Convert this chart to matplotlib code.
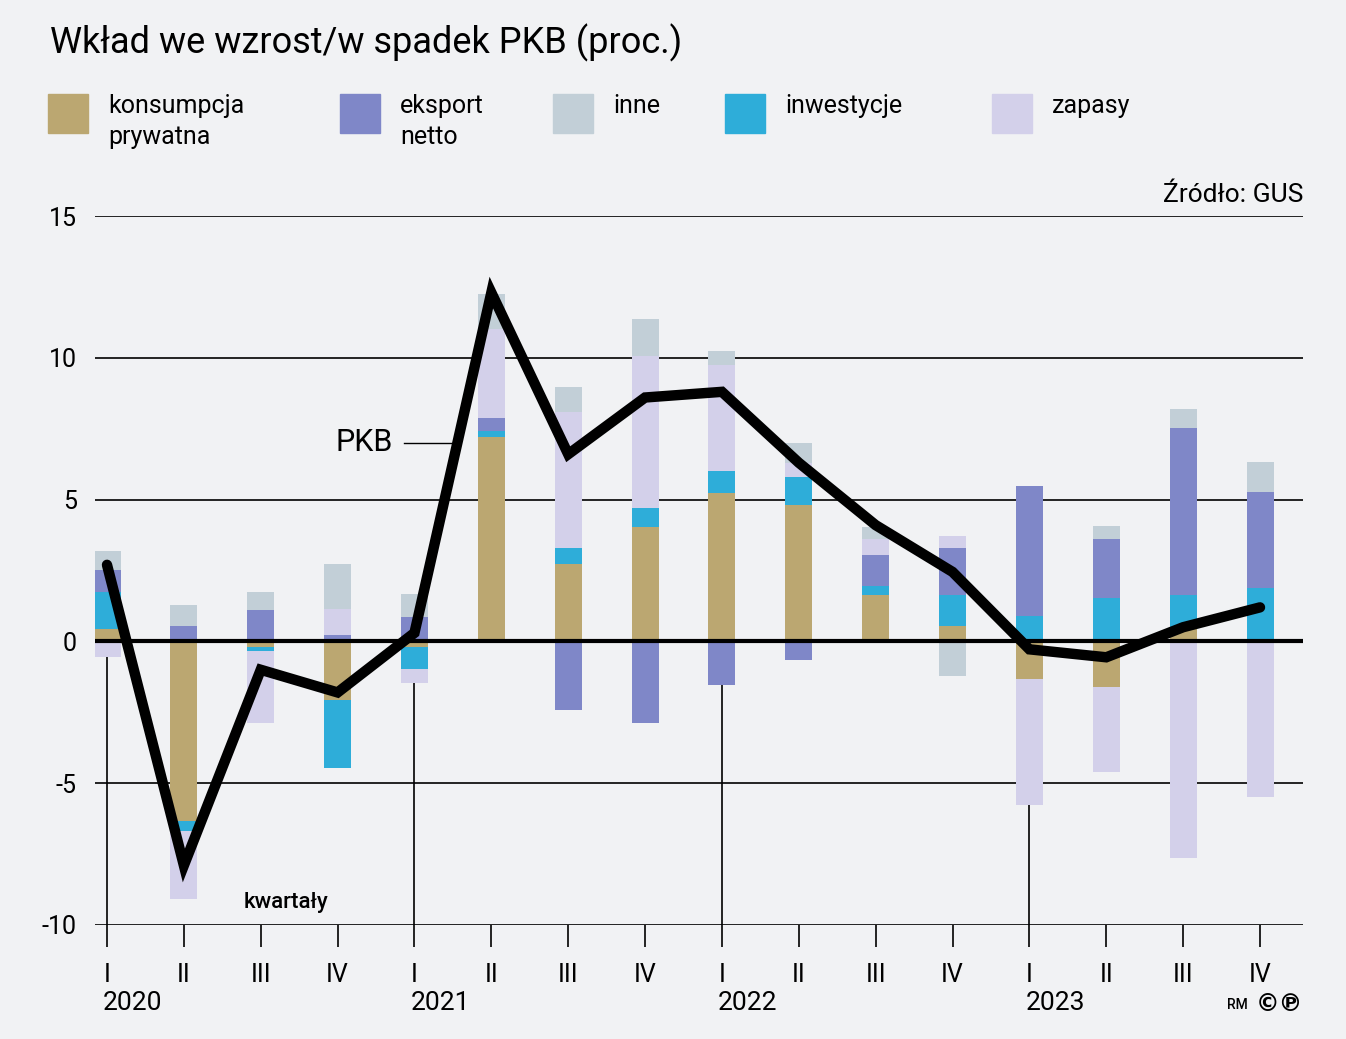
import matplotlib
matplotlib.use("Agg")
import matplotlib.pyplot as plt
import numpy as np
from matplotlib.patches import Rectangle

plt.rcParams['font.family'] = ['Roboto', 'DejaVu Sans']

# kwartały 2020 I - 2023 IV
quarters = ["I", "II", "III", "IV"] * 4
years = ["2020", "2021", "2022", "2023"]

konsumpcja = [0.42, -6.35, -0.2, -2.08, -0.2, 7.2, 2.72, 4.02, 5.22, 4.8, 1.62, 0.53, -1.31, -1.62, 0.45, 0.0]
inwestycje = [1.31, -0.32, -0.15, -2.4, -0.79, 0.21, 0.56, 0.67, 0.78, 0.98, 0.35, 1.09, 0.88, 1.52, 1.17, 1.9]
eksport = [0.77, 0.53, 1.09, 0.21, 0.85, 0.46, -2.43, -2.86, -1.55, -0.67, 1.06, 1.66, 4.59, 2.08, 5.89, 3.36]
zapasy = [-0.56, -2.4, -2.51, 0.92, -0.46, 3.13, 4.82, 5.36, 3.74, 0.52, 0.57, 0.42, -4.47, -2.97, -7.62, -5.5]
inne = [0.67, 0.77, 0.64, 1.59, 0.81, 1.24, 0.86, 1.31, 0.49, 0.68, 0.42, -1.23, 0.0, 0.46, 0.67, 1.05]
pkb = [2.7, -7.9, -1.0, -1.8, 0.3, 12.3, 6.6, 8.6, 8.8, 6.3, 4.1, 2.45, -0.28, -0.56, 0.5, 1.2]

W, H = 1346, 1039
bg = '#F1F2F4'
fig = plt.figure(figsize=(W / 100, H / 100), dpi=100, facecolor=bg)

def fx(px):
    return px / W

def fy(py):
    return 1 - py / H

# obszar wykresu: x 95..1303 px, y 216 (15) .. 925 (-10)
ax = fig.add_axes([fx(95), fy(925), fx(1303) - fx(95), fy(216) - fy(925)])
ax.set_facecolor(bg)
step = (1260 - 107) / 15
ax.set_xlim(-12 / step, 15 + 43 / step)
ax.set_ylim(-10, 15)

x = np.arange(16)
series = [
    ("konsumpcja\nprywatna", konsumpcja, '#BBA771'),
    ("inwestycje", inwestycje, '#2EADD9'),
    ("eksport\nnetto", eksport, '#7F87C8'),
    ("zapasy", zapasy, '#D3D0EA'),
    ("inne", inne, '#C2CFD7'),
]

pos = np.zeros(16)
neg = np.zeros(16)
bw = 27 / step
for name, vals, col in series:
    v = np.array(vals)
    bottom = np.where(v >= 0, pos, neg)
    ax.bar(x, v, bottom=bottom, width=bw, color=col, zorder=2)
    pos = pos + np.where(v >= 0, v, 0)
    neg = neg + np.where(v < 0, v, 0)

# siatka
for yv in [15, 10, 5, -5, -10]:
    ax.axhline(yv, color='black', lw=1.2, zorder=1)
ax.axhline(0, color='black', lw=3, zorder=3)

# linie lat
for i in range(0, 16, 4):
    ax.vlines(x[i], -10, neg[i], color='black', lw=1.2, zorder=1)

ax.plot(x, pkb, color='black', lw=7.5, solid_joinstyle='miter', solid_capstyle='round', zorder=4)

for s in ax.spines.values():
    s.set_visible(False)
ax.set_xticks(x)
ax.set_xticklabels(quarters, fontsize=18)
ax.tick_params(axis='x', length=16, width=1.2, pad=11, color='black')
ax.set_yticks([15, 10, 5, 0, -5, -10])
ax.set_yticklabels(['15', '10', '5', '0', '-5', '-10'])
ax.tick_params(axis='y', length=0, pad=13, labelsize=18)

for i, yr in enumerate(years):
    ax.text(x[i * 4] - 4 / step, -12.75, yr, fontsize=19, ha='left', va='center',
            clip_on=False)

# etykiety
ax.text(x[4] - 22 / step, 7.0, "PKB", fontsize=22, ha='right', va='center')
ax.plot([x[4] - 10 / step, x[4] + 37 / step], [7.0, 7.0], color='black', lw=1, zorder=1)
ax.text(x[2] - 17 / step, -9.2, "kwartały", fontsize=16, fontweight='medium',
        ha='left', va='center')

fig.text(fx(50), fy(43), "Wkład we wzrost/w spadek PKB (proc.)", fontsize=26,
         ha='left', va='center')
fig.text(fx(1303), fy(195), "Źródło: GUS", fontsize=19,
         ha='right', va='center')

# legenda
leg = [("konsumpcja\nprywatna", '#BBA771', 48),
       ("eksport\nnetto", '#7F87C8', 340),
       ("inne", '#C2CFD7', 553),
       ("inwestycje", '#2EADD9', 725),
       ("zapasy", '#D3D0EA', 992)]
for name, col, lx in leg:
    fig.patches.append(Rectangle((fx(lx), fy(133)), fx(40), 39 / H, color=col,
                                 transform=fig.transFigure))
    fig.text(fx(lx + 60), fy(94), name, fontsize=18, ha='left', va='top',
             linespacing=1.35)

fig.text(fx(1248), fy(1005), "RM", fontsize=10, fontweight='medium', ha='right', va='center')
fig.text(fx(1303), fy(1004), "©℗", fontsize=17, fontweight='bold', ha='right', va='center',
         family=['DejaVu Sans'])

fig.savefig("out.png", dpi=100, facecolor=bg)
